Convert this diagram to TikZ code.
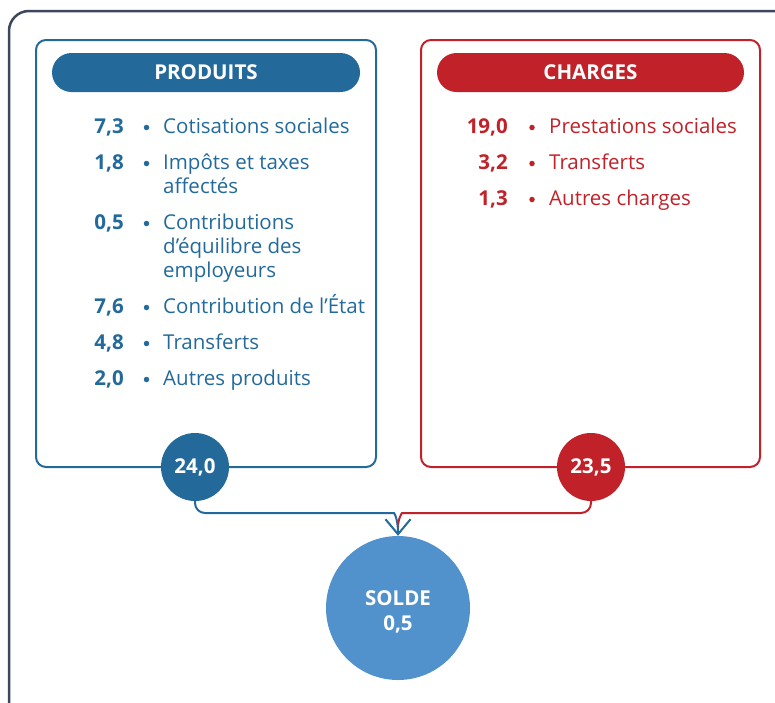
\documentclass[tikz,border=0pt]{standalone}
\usepackage{fontspec}
\setmainfont{Open Sans}
\usetikzlibrary{arrows.meta}
\definecolor{pblue}{HTML}{236A9B}
\definecolor{cred}{HTML}{C1222A}
\definecolor{sblue}{HTML}{5192CC}
\definecolor{framec}{HTML}{3D475C}
\tikzset{
  numb/.style={anchor=base east, inner sep=0pt, font=\fontsize{20.5}{24}\selectfont\bfseries},
  itxt/.style={anchor=base west, inner sep=0pt, font=\fontsize{20.5}{24}\selectfont},
  dot/.style={circle, inner sep=0pt, minimum size=5.5pt},
  panel/.style={draw, line width=2pt, rounded corners=10pt, minimum height=427pt, inner sep=0pt},
  pill/.style={rounded corners=19.5pt, minimum height=39pt, inner sep=0pt, text=white, font=\fontsize{20.5}{24}\selectfont\bfseries},
  total/.style={circle, minimum size=68pt, inner sep=0pt, text=white, font=\fontsize{20.5}{24}\selectfont\bfseries},
  conn/.style={line width=2pt, rounded corners=10pt}
}
\begin{document}
\begin{tikzpicture}[x=1pt,y=-1pt]
\useasboundingbox (0,0) rectangle (775,702);
\clip (0,0) rectangle (775,702);
\draw[framec, line width=2.5pt, rounded corners=20pt] (9,11) rectangle (800,725);

% panels
\node[panel, pblue, minimum width=340pt] (pbox) at (206,253.5) {};
\node[panel, cred, minimum width=339pt] (cbox) at (590.5,253.5) {};
\node[pill, fill=pblue, minimum width=308pt] (phead) at (206,72.5) {PRODUITS};
\node[pill, fill=cred, minimum width=307pt] (chead) at (590.5,72.5) {CHARGES};

% produits items
\node[numb, text=pblue] (pn1) at (124,133) {7,3};
\node[dot, fill=pblue] (pb1) at (146.5,127.5) {};
\node[itxt, text=pblue] (pt1) at (163,133) {Cotisations sociales};
\node[numb, text=pblue] (pn2) at (124,169) {1,8};
\node[dot, fill=pblue] (pb2) at (146.5,163.5) {};
\node[itxt, text=pblue] (pt2a) at (163,169) {Impôts et taxes};
\node[itxt, text=pblue] (pt2b) at (163,193) {affectés};
\node[numb, text=pblue] (pn3) at (124,229) {0,5};
\node[dot, fill=pblue] (pb3) at (146.5,223.5) {};
\node[itxt, text=pblue] (pt3a) at (163,229) {Contributions};
\node[itxt, text=pblue] (pt3b) at (163,253) {d’équilibre des};
\node[itxt, text=pblue] (pt3c) at (163,277) {employeurs};
\node[numb, text=pblue] (pn4) at (124,313) {7,6};
\node[dot, fill=pblue] (pb4) at (146.5,307.5) {};
\node[itxt, text=pblue] (pt4) at (163,313) {Contribution de l’État};
\node[numb, text=pblue] (pn5) at (124,349) {4,8};
\node[dot, fill=pblue] (pb5) at (146.5,343.5) {};
\node[itxt, text=pblue] (pt5) at (163,349) {Transferts};
\node[numb, text=pblue] (pn6) at (124,385) {2,0};
\node[dot, fill=pblue] (pb6) at (146.5,379.5) {};
\node[itxt, text=pblue] (pt6) at (163,385) {Autres produits};

% charges items
\node[numb, text=cred] (cn1) at (508,133) {19,0};
\node[dot, fill=cred] (cb1) at (532,127.5) {};
\node[itxt, text=cred] (ct1) at (549,133) {Prestations sociales};
\node[numb, text=cred] (cn2) at (508,169) {3,2};
\node[dot, fill=cred] (cb2) at (532,163.5) {};
\node[itxt, text=cred] (ct2) at (549,169) {Transferts};
\node[numb, text=cred] (cn3) at (508,205) {1,3};
\node[dot, fill=cred] (cb3) at (532,199.5) {};
\node[itxt, text=cred] (ct3) at (549,205) {Autres charges};

% totals
\node[total, fill=pblue] (ptot) at (195,467) {24,0};
\node[total, fill=cred] (ctot) at (591,467) {23,5};
\node[circle, fill=sblue, minimum size=144pt, inner sep=0pt] (sol) at (398,608) {};
\node[text=white, align=center, inner sep=0pt,
      font=\fontsize{20.5}{25}\selectfont\bfseries] (soltxt) at (398,612) {SOLDE\\0,5};

% connectors
\coordinate (rjoin) at (398,528);
\draw[conn, cred] (ctot.south) |- (412,513) [sharp corners] .. controls (402,513) and (398,518) .. (rjoin);
\draw[conn, pblue, -{Straight Barb[length=15pt,width=25pt]}] (ptot.south) |- (384,513) [sharp corners] .. controls (394,513) and (398,518) .. (sol.north);
\end{tikzpicture}
\end{document}
